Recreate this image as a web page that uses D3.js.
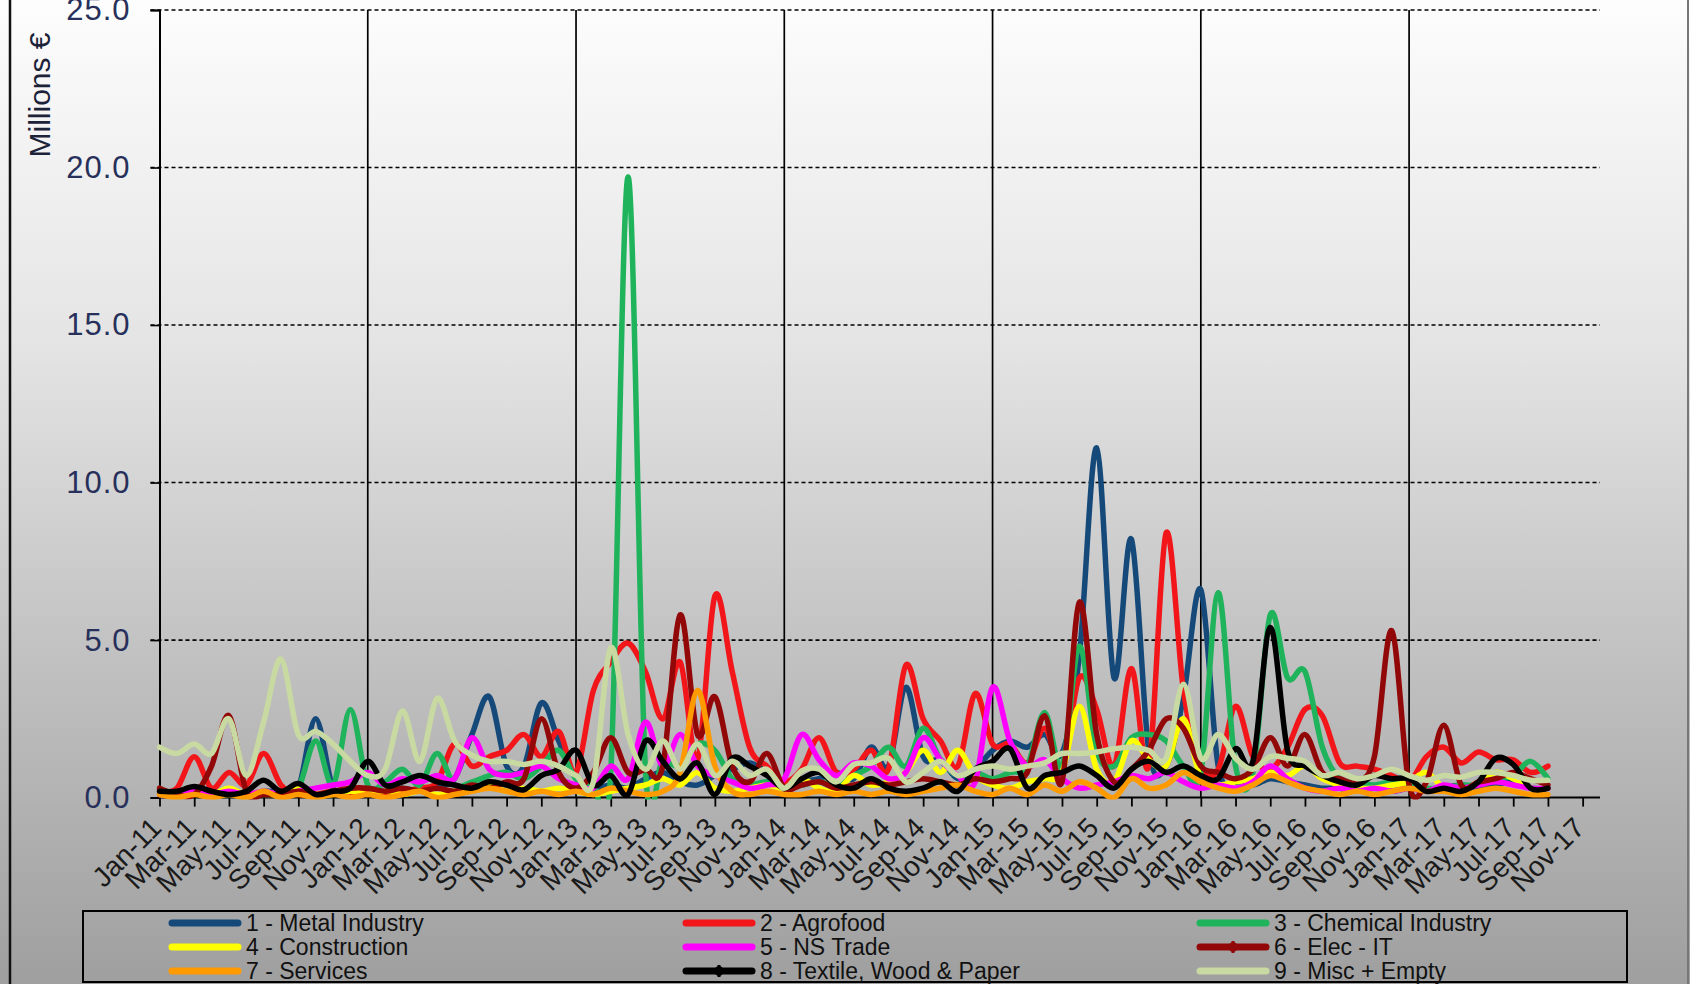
<!DOCTYPE html>
<html><head><meta charset="utf-8">
<script src="https://cdn.jsdelivr.net/npm/d3@7"></script>
<style>
body{margin:0;overflow:hidden;background:#fff;}
svg{display:block;}
text{font-family:"Liberation Sans",Arial,sans-serif;}
</style>
</head><body>
<svg id="chart" width="1690" height="984"></svg>
<script>
// ---------------- DATA ----------------
const months = [
"Jan-11","Feb-11","Mar-11","Apr-11","May-11","Jun-11","Jul-11","Aug-11","Sep-11","Oct-11","Nov-11","Dec-11",
"Jan-12","Feb-12","Mar-12","Apr-12","May-12","Jun-12","Jul-12","Aug-12","Sep-12","Oct-12","Nov-12","Dec-12",
"Jan-13","Feb-13","Mar-13","Apr-13","May-13","Jun-13","Jul-13","Aug-13","Sep-13","Oct-13","Nov-13","Dec-13",
"Jan-14","Feb-14","Mar-14","Apr-14","May-14","Jun-14","Jul-14","Aug-14","Sep-14","Oct-14","Nov-14","Dec-14",
"Jan-15","Feb-15","Mar-15","Apr-15","May-15","Jun-15","Jul-15","Aug-15","Sep-15","Oct-15","Nov-15","Dec-15",
"Jan-16","Feb-16","Mar-16","Apr-16","May-16","Jun-16","Jul-16","Aug-16","Sep-16","Oct-16","Nov-16","Dec-16",
"Jan-17","Feb-17","Mar-17","Apr-17","May-17","Jun-17","Jul-17","Aug-17","Sep-17"];

const tickLabels = [
"Jan-11","Mar-11","May-11","Jul-11","Sep-11","Nov-11",
"Jan-12","Mar-12","May-12","Jul-12","Sep-12","Nov-12",
"Jan-13","Mar-13","May-13","Jul-13","Sep-13","Nov-13",
"Jan-14","Mar-14","May-14","Jul-14","Sep-14","Nov-14",
"Jan-15","Mar-15","May-15","Jul-15","Sep-15","Nov-15",
"Jan-16","Mar-16","May-16","Jul-16","Sep-16","Nov-16",
"Jan-17","Mar-17","May-17","Jul-17","Sep-17","Nov-17"];

const yTicks = [0, 5, 10, 15, 20, 25];

const metalIndustry = [0.2,0.1,0.2,0.1,0.2,0.1,0.2,0.2,0.3,2.5,0.3,0.2,
 0.3,0.2,0.3,0.2,0.4,0.6,2.0,3.2,1.0,1.0,3.0,1.8,
 0.6,0.3,0.4,0.3,0.6,0.8,0.5,0.4,0.7,0.9,1.1,0.8,
 0.4,0.5,0.6,0.8,0.6,1.6,1.0,3.5,1.3,1.2,0.6,0.9,
 1.5,1.8,1.6,2.0,1.4,4.5,11.1,3.8,8.2,1.5,1.0,3.2,
 6.6,1.0,0.5,0.4,0.6,0.5,0.4,0.3,0.3,0.2,0.3,0.2,
 0.3,0.2,0.3,0.4,0.3,0.4,0.5,0.3,0.3];

const agrofood = [0.2,0.3,1.3,0.3,0.8,0.4,1.4,0.4,0.1,0.1,0.2,0.1,
 0.2,0.1,0.2,0.3,0.5,1.7,1.0,1.3,1.5,2.0,1.3,2.1,
 0.8,3.4,4.3,4.9,4.0,2.5,4.3,1.2,6.4,4.0,1.6,1.0,
 0.5,0.9,1.9,0.8,0.9,1.5,0.9,4.2,2.5,1.8,1.0,3.3,
 1.7,1.7,1.1,2.2,1.0,3.8,2.8,1.0,4.1,1.0,8.4,3.4,
 1.0,0.9,2.9,1.3,0.9,1.6,2.8,2.6,1.1,1.0,0.9,0.7,
 0.5,1.3,1.6,1.1,1.45,1.2,1.2,0.8,1.0];

const chemicalIndustry = [0.1,0.1,0.2,0.1,0.1,0.1,0.1,0.1,0.3,1.8,0.4,2.8,
 0.4,0.5,0.9,0.4,1.4,0.4,0.5,0.7,0.8,0.6,1.0,1.5,
 0.6,0.4,0.8,19.7,0.9,1.2,1.0,1.7,1.5,0.6,0.4,0.5,
 0.3,0.4,0.5,0.4,0.7,1.0,1.6,1.0,2.2,1.2,0.7,0.8,
 0.6,0.8,1.0,2.7,1.0,4.8,1.5,1.0,1.9,2.0,1.8,1.0,
 0.8,6.5,1.0,0.8,5.8,3.8,4.0,1.6,0.6,0.5,0.4,0.5,
 0.4,0.3,0.3,0.4,0.4,0.6,0.7,1.15,0.6];

const construction = [0.1,0.1,0.2,0.1,0.3,0.1,0.2,0.1,0.3,0.1,0.1,0.2,
 0.1,0.2,0.1,0.2,0.1,0.2,0.3,0.4,0.2,0.3,0.2,0.3,
 0.2,0.1,0.2,0.3,0.4,0.6,0.4,0.8,0.3,0.2,0.3,0.4,
 0.3,0.6,0.3,0.2,0.7,0.4,0.5,0.8,1.5,0.8,1.5,0.7,
 0.4,0.3,0.5,0.6,0.8,2.9,0.9,0.5,1.8,1.2,1.0,2.5,
 0.6,0.4,0.5,0.6,0.8,0.7,1.0,0.6,0.4,0.3,0.3,0.4,
 0.5,0.8,0.3,0.2,0.5,0.8,0.6,0.3,0.3];

const nsTrade = [0.1,0.1,0.2,0.1,0.2,0.1,0.2,0.1,0.2,0.3,0.4,0.5,
 0.8,0.4,0.6,0.5,0.7,0.6,1.9,0.9,0.7,0.8,1.0,0.6,
 0.4,0.3,1.0,0.6,2.4,1.0,2.0,1.0,0.7,0.5,0.3,0.4,
 0.6,2.0,1.2,0.7,1.1,1.0,0.6,0.8,1.9,1.2,0.7,0.5,
 3.5,1.8,1.0,1.2,0.6,0.3,0.4,0.5,0.7,0.6,0.8,0.5,
 0.3,0.4,0.3,0.5,1.0,0.6,0.3,0.2,0.3,0.2,0.3,0.2,
 0.3,0.2,0.4,0.3,0.4,0.5,0.4,0.3,0.3];

const elecIT = [0.3,0.1,0.1,1.0,2.6,0.2,0.1,0.1,0.2,0.1,0.2,0.3,
 0.3,0.2,0.3,0.2,0.3,0.2,0.4,0.3,0.5,0.6,2.5,0.8,
 0.3,0.8,1.9,0.8,0.9,1.0,5.8,2.0,3.2,1.0,0.5,1.4,
 0.3,0.4,0.5,0.3,0.4,0.5,0.4,0.5,0.6,0.5,0.4,0.6,
 0.5,0.6,0.8,2.6,0.5,6.2,2.0,0.5,0.9,1.5,2.5,2.2,
 1.0,0.8,0.6,0.9,1.9,1.0,2.0,0.8,0.6,0.5,1.3,5.3,
 0.4,0.5,2.3,0.4,0.5,0.6,0.8,0.6,0.4];

const services = [0.1,0.0,0.1,0.0,0.1,0.0,0.2,0.0,0.1,0.0,0.1,0.0,
 0.1,0.0,0.1,0.2,0.0,0.1,0.2,0.3,0.2,0.1,0.2,0.1,
 0.2,0.1,0.3,0.2,0.1,0.2,0.8,3.4,1.0,0.2,0.1,0.2,
 0.1,0.1,0.2,0.1,0.2,0.1,0.2,0.1,0.2,0.3,0.4,0.2,
 0.1,0.3,0.1,0.4,0.2,0.5,0.3,0.0,0.6,0.3,0.4,0.8,
 0.5,0.3,0.2,0.4,0.7,0.5,0.3,0.2,0.1,0.2,0.1,0.2,
 0.3,0.2,0.2,0.1,0.2,0.3,0.2,0.1,0.1];

const textileWoodPaper = [0.2,0.2,0.35,0.2,0.1,0.2,0.55,0.2,0.45,0.1,0.2,0.3,
 1.15,0.4,0.5,0.7,0.5,0.4,0.3,0.5,0.4,0.25,0.7,0.9,
 1.5,0.4,0.7,0.1,1.8,1.15,0.6,1.1,0.1,1.25,1.0,0.7,
 0.3,0.6,0.8,0.4,0.3,0.6,0.3,0.2,0.3,0.5,0.2,0.9,
 1.15,1.55,0.3,0.7,0.8,1.0,0.7,0.3,0.9,1.15,0.8,1.0,
 0.7,0.6,1.55,1.15,5.4,1.5,1.0,0.7,0.5,0.4,0.7,0.6,
 0.6,0.2,0.3,0.2,0.5,1.25,1.05,0.3,0.3];

const miscEmpty = [1.6,1.4,1.7,1.4,2.5,0.7,2.4,4.4,2.0,2.1,1.7,1.15,
 0.7,0.9,2.75,1.15,3.15,1.8,1.35,1.15,1.15,1.05,1.15,1.0,
 0.7,0.5,4.75,2.0,0.9,1.8,0.9,1.7,0.7,1.15,0.7,0.9,
 0.3,0.85,0.9,0.5,1.05,1.1,1.25,0.5,0.8,1.15,0.7,0.9,
 1.0,0.9,1.0,1.1,1.4,1.4,1.45,1.55,1.6,1.5,1.25,3.6,
 1.25,2.0,1.25,0.9,1.3,1.25,1.15,0.7,0.8,0.6,0.7,0.9,
 0.7,0.55,0.7,0.65,0.8,0.8,0.7,0.55,0.55];

const seriesNames = ["1 - Metal Industry","2 - Agrofood","3 - Chemical Industry",
 "4 - Construction","5 - NS Trade","6 - Elec - IT",
 "7 - Services","8 - Textile, Wood & Paper","9 - Misc + Empty"];
const seriesValues = [metalIndustry, agrofood, chemicalIndustry, construction, nsTrade,
 elecIT, services, textileWoodPaper, miscEmpty];
const seriesColors = ["#15497a","#f2161a","#1fb35c","#ffff00","#ff00ff",
 "#920808","#ff9a00","#000000","#c9d9a2"];
const seriesMarkers = [false,false,false,false,false,true,false,true,false];

// ---------------- CHART ----------------
const W = 1690, H = 984;
const svg = d3.select("#chart");
const defs = svg.append("defs");
const grad = defs.append("linearGradient").attr("id","bg")
  .attr("x1","0").attr("y1","0").attr("x2","0").attr("y2","1");
grad.append("stop").attr("offset","0%").attr("stop-color","#fdfdfd");
grad.append("stop").attr("offset","35%").attr("stop-color","#e4e4e4");
grad.append("stop").attr("offset","65%").attr("stop-color","#c3c3c3");
grad.append("stop").attr("offset","100%").attr("stop-color","#9f9f9f");
svg.append("rect").attr("width",W).attr("height",H).attr("fill","url(#bg)");

// outer border lines
svg.append("line").attr("x1",10).attr("x2",10).attr("y1",0).attr("y2",H)
  .attr("stroke","#111").attr("stroke-width",2.5);
svg.append("line").attr("x1",1688).attr("x2",1688).attr("y1",0).attr("y2",H)
  .attr("stroke","#777").attr("stroke-width",2);

const plotL = 159.5, plotR = 1600, plotT = 10, plotB = 797.6;
const x = d3.scaleLinear().domain([0, 83]).range([plotL, plotR]);
const y = d3.scaleLinear().domain([0, 25]).range([plotB, plotT]);

// horizontal dashed gridlines
svg.append("g").selectAll("line").data(yTicks.filter(v => v > 0)).join("line")
  .attr("x1", plotL - 9).attr("x2", plotR)
  .attr("y1", d => y(d)).attr("y2", d => y(d))
  .attr("stroke","#000").attr("stroke-width",1.6).attr("stroke-dasharray","4,3");

// vertical yearly gridlines (January of each year)
const yearIdx = tickLabels.map((t,i)=>[t,i*2]).filter(d => d[0].startsWith("Jan")).map(d => d[1]);
svg.append("g").selectAll("line").data(yearIdx.filter(v => v > 0)).join("line")
  .attr("x1", d => x(d)).attr("x2", d => x(d))
  .attr("y1", plotT).attr("y2", plotB)
  .attr("stroke","#000").attr("stroke-width",1.7);

// y axis
const yAxis = d3.axisLeft(y).tickValues(yTicks).tickSize(9).tickPadding(20)
  .tickFormat(d3.format(".1f"));
const gy = svg.append("g").attr("transform",`translate(${plotL},0)`).call(yAxis);
gy.select(".domain").attr("stroke","#000").attr("stroke-width",2);
gy.selectAll(".tick line").attr("stroke","#000").attr("stroke-width",1.6);
gy.selectAll(".tick text").attr("font-size",31).attr("fill","#27305a")
  .attr("letter-spacing","1px").attr("font-family","Liberation Sans, Arial, sans-serif");

// x axis
const xAxis = d3.axisBottom(x).tickValues(tickLabels.map((t,i)=>i*2)).tickSize(9)
  .tickFormat((d,i) => tickLabels[i]);
const gx = svg.append("g").attr("transform",`translate(0,${plotB})`).call(xAxis);
gx.select(".domain").attr("stroke","#000").attr("stroke-width",2).attr("d",`M${plotL},0H${plotR}`);
gx.selectAll(".tick line").attr("stroke","#000").attr("stroke-width",1.8);
gx.selectAll(".tick text")
  .attr("font-size",28).attr("fill","#1a1a1a").attr("font-family","Liberation Sans, Arial, sans-serif")
  .attr("text-anchor","end").attr("dy",null).attr("y",null)
  .attr("transform","translate(3,32) rotate(-45)");

// y axis title
svg.append("text").attr("transform","translate(50,95) rotate(-90)")
  .attr("text-anchor","middle").attr("font-size",30).attr("fill","#1c2238")
  .text("Millions €");

// clip for lines
defs.append("clipPath").attr("id","plotclip").append("rect")
  .attr("x",plotL-3).attr("y",0).attr("width",plotR-plotL+6).attr("height",plotB+2);

const line = d3.line().x((d,i) => x(i)).y(d => y(d)).curve(d3.curveCardinal.tension(0));
const gl = svg.append("g").attr("clip-path","url(#plotclip)");
seriesValues.forEach((vals, k) => {
  gl.append("path").datum(vals).attr("d", line)
    .attr("fill","none").attr("stroke", seriesColors[k]).attr("stroke-width",5.5)
    .attr("stroke-linejoin","round").attr("stroke-linecap","round");
});

// legend
const lg = svg.append("g");
lg.append("rect").attr("x",83).attr("y",911).attr("width",1544).attr("height",71)
  .attr("fill","none").attr("stroke","#000").attr("stroke-width",2);
const colX = [172, 686, 1200];
const rowY = [923, 947, 971];
seriesNames.forEach((name, k) => {
  const cx = colX[k % 3], cy = rowY[Math.floor(k / 3)];
  lg.append("line").attr("x1",cx).attr("x2",cx+66).attr("y1",cy).attr("y2",cy)
    .attr("stroke",seriesColors[k]).attr("stroke-width",7).attr("stroke-linecap","round");
  if (seriesMarkers[k]) {
    lg.append("circle").attr("cx",cx+33).attr("cy",cy).attr("r",4.5)
      .attr("fill",seriesColors[k]).attr("stroke",seriesColors[k]);
    lg.append("line").attr("x1",cx+33).attr("x2",cx+33).attr("y1",cy-6).attr("y2",cy+6)
      .attr("stroke",seriesColors[k]).attr("stroke-width",3);
  }
  lg.append("text").attr("x",cx+74).attr("y",cy).attr("dy","0.35em")
    .attr("font-size",23).attr("fill","#111").text(name);
});
</script>
</body></html>
